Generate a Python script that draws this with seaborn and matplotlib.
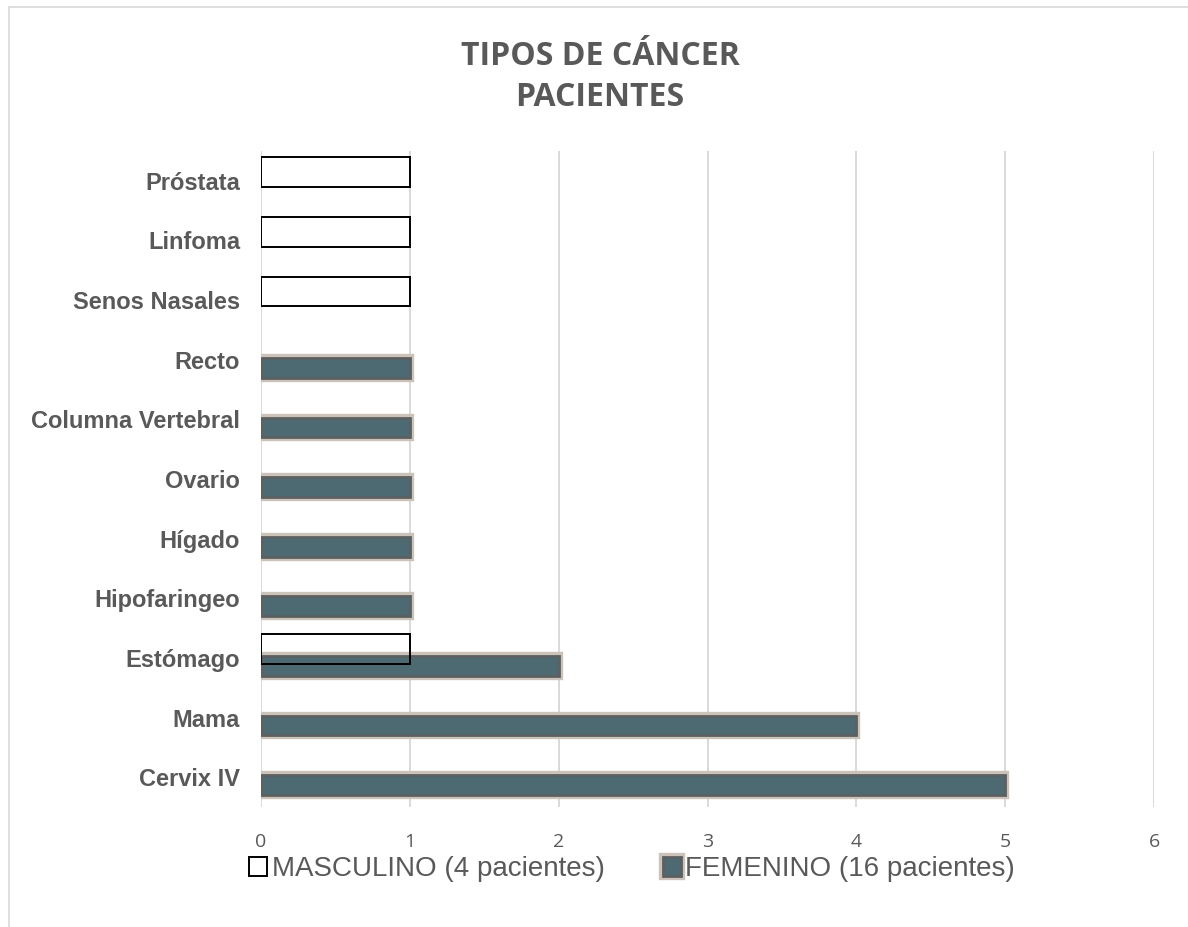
import matplotlib
matplotlib.use("Agg")
import matplotlib.pyplot as plt
import matplotlib.patheffects as pe
from matplotlib.lines import Line2D
import numpy as np
import pandas as pd
import seaborn as sns

# Cancer types, listed top to bottom
categories = ["Próstata", "Linfoma", "Senos Nasales", "Recto", "Columna Vertebral",
              "Ovario", "Hígado", "Hipofaringeo", "Estómago", "Mama", "Cervix IV"]
masculino = [1, 1, 1, None, None, None, None, None, 1, None, None]
femenino = [None, None, None, 1, 1, 1, 1, 1, 2, 4, 5]
x_ticks = [0, 1, 2, 3, 4, 5, 6]

title = "TIPOS DE CÁNCER\nPACIENTES"
label_m = "MASCULINO (4 pacientes)"
label_f = "FEMENINO (16 pacientes)"

sns.set_theme(style="white")
plt.rcParams["font.family"] = ["Liberation Sans", "DejaVu Sans"]

GREY_TXT = "#595959"
GRID = "#d9d9d9"

fig = plt.figure(figsize=(11.88, 9.27), dpi=100)
ax = fig.add_axes([261 / 1188, 1 - 807 / 927, (1154 - 261) / 1188, 656 / 927])

df_f = pd.DataFrame({"tipo": categories, "n": femenino}).dropna()
df_m = pd.DataFrame({"tipo": categories, "n": masculino}).dropna()

# Female series: thinner bars, shifted slightly down within each category
sns.barplot(data=df_f, x="n", y="tipo", order=categories, orient="h", width=0.33,
            color="#4d6a72", edgecolor="#5c6061", linewidth=2, saturation=1,
            label=label_f, ax=ax, zorder=3)
fem_patches = list(ax.patches)
for p in fem_patches:
    p.set_y(p.get_y() + 0.135)
    p.set_path_effects([pe.Stroke(linewidth=6, foreground="#cbc2b9"), pe.Normal()])

# Male series: wider outlined bars, shifted slightly up
sns.barplot(data=df_m, x="n", y="tipo", order=categories, orient="h", width=0.5,
            facecolor="none", edgecolor="black", linewidth=1.4, saturation=1,
            label=label_m, ax=ax, zorder=4)
for p in ax.patches[len(fem_patches):]:
    p.set_y(p.get_y() - 0.143)

if ax.get_legend() is not None:
    ax.get_legend().remove()

ax.set_xlim(0, 6)
ax.set_ylim(len(categories) - 0.5, -0.5)
ax.set_xticks(x_ticks)
ax.set_xticklabels([str(t) for t in x_ticks], family=["Open Sans", "DejaVu Sans"],
                   fontsize=14, color=GREY_TXT)
ax.set_yticks(range(len(categories)))
ax.set_yticklabels(categories, fontsize=17, fontweight="bold", color=GREY_TXT)
ax.tick_params(axis="x", length=0, pad=19)
ax.tick_params(axis="y", length=0, pad=15)
ax.set_xlabel("")
ax.set_ylabel("")
for s in ax.spines.values():
    s.set_visible(False)
ax.grid(axis="x", color=GRID, linewidth=1.4, zorder=0)
ax.grid(axis="y", visible=False)
ax.set_axisbelow(True)

fig.text(600 / 1188, 1 - 77 / 927, title, ha="center", va="center",
         family=["Open Sans", "DejaVu Sans"], fontweight="bold", fontsize=23,
         color=GREY_TXT, linespacing=1.3)

handles, labels = ax.get_legend_handles_labels()
order = [labels.index(label_m), labels.index(label_f)]
leg = fig.legend([handles[i] for i in order], [labels[i] for i in order],
                 loc="center", bbox_to_anchor=(632 / 1188, 1 - 869 / 927), ncol=2,
                 frameon=False, fontsize=20, handlelength=0.65, handleheight=0.65,
                 handletextpad=0.15, columnspacing=2.1)
for t in leg.get_texts():
    t.set_color(GREY_TXT)

# Light chart-area border along the top and left edges
fig.add_artist(Line2D([9 / 1188, 9 / 1188], [0, 1 - 7 / 927], transform=fig.transFigure,
                      color=GRID, linewidth=1.2))
fig.add_artist(Line2D([9 / 1188, 1], [1 - 7 / 927, 1 - 7 / 927], transform=fig.transFigure,
                      color=GRID, linewidth=1.2))

fig.savefig("out.png", dpi=100, facecolor="white")
